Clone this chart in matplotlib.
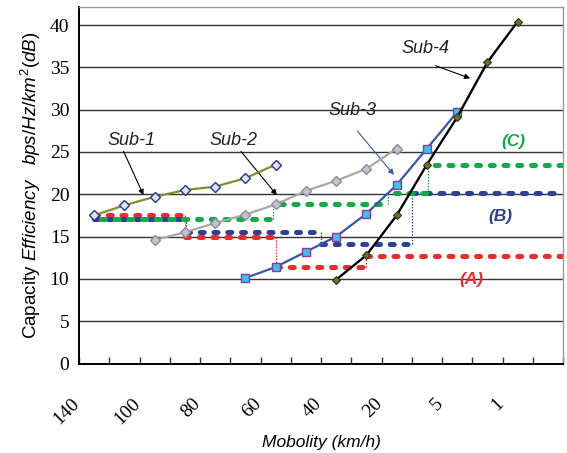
import numpy as np
import matplotlib
matplotlib.use('Agg')
import matplotlib.pyplot as plt
from matplotlib.transforms import ScaledTranslation

plt.rcParams['mathtext.fontset'] = 'custom'
plt.rcParams['mathtext.rm'] = 'Liberation Sans'
plt.rcParams['mathtext.it'] = 'Liberation Sans:italic'

# categories along the mobility axis (16 slots, labels on every other)
n_cats = 16
tick_pos = [0, 2, 4, 6, 8, 10, 12, 14]
tick_labels = ['140', '100', '80', '60', '40', '20', '5', '1']

# the four sub-band curves
sub1_x = [0, 1, 2, 3, 4, 5, 6]
sub1_y = [17.5, 18.7, 19.7, 20.5, 20.9, 21.9, 23.5]
sub2_x = [2, 3, 4, 5, 6, 7, 8, 9, 10]
sub2_y = [14.6, 15.5, 16.6, 17.6, 18.8, 20.4, 21.6, 23.0, 25.4]
sub3_x = [5, 6, 7, 8, 9, 10, 11, 12]
sub3_y = [10.1, 11.4, 13.2, 15.0, 17.7, 21.1, 25.4, 29.7]
sub4_x = [8, 9, 10, 11, 12, 13, 14]
sub4_y = [9.9, 12.8, 17.5, 23.5, 29.1, 35.6, 40.4]

# step envelopes (A), (B), (C): break positions and levels
stepA_x = [0, 3, 6, 9, 15.5]
stepA_y = [17.5, 15.0, 11.4, 12.7]
stepB_x = [0, 3.05, 7.5, 10.5, 15.5]
stepB_y = [17.1, 15.5, 14.1, 20.1]
stepC_x = [0, 5.9, 9.7, 11.05, 15.5]
stepC_y = [17.1, 18.8, 20.1, 23.5]

red = '#ee2a2a'
blue = '#2e3f9a'
green = '#10aa48'

fig = plt.figure(figsize=(5.67, 4.53), dpi=100)
ax = fig.add_axes([79/567, 1 - 363.5/453, 484/567, 356.5/453])


def draw_steps(xs, ys, color, offset=0.0):
    for i in range(len(ys)):
        ax.plot([xs[i], xs[i+1]], [ys[i], ys[i]], color=color, lw=3.6,
                linestyle=(offset, (0.8, 1.95)), dash_capstyle='round', zorder=2)
        if i + 1 < len(ys):
            ax.plot([xs[i+1], xs[i+1]], [ys[i], ys[i+1]], color=color, lw=0.9,
                    linestyle=(0, (1.2, 1.2)), zorder=2)


draw_steps(stepA_x, stepA_y, red)
draw_steps(stepB_x, stepB_y, blue)
draw_steps(stepC_x, stepC_y, green, offset=1.4)

ax.plot(sub1_x, sub1_y, color='#8a8a30', lw=1.6, marker='D', ms=4.8,
        mfc='#d2e8fb', mec='#30308a', mew=1.0, zorder=4)
ax.plot(sub2_x, sub2_y, color='#a8a8a8', lw=1.6, marker='D', ms=5.2,
        mfc='#c2c2cc', mec='#8a8aa2', mew=1.0, zorder=4)
ax.plot(sub3_x, sub3_y, color='#3656ac', lw=1.6, marker='s', ms=5.6,
        mfc='#33c4f0', mec='#993399', mew=1.0, zorder=4)
ax.plot(sub4_x, sub4_y, color='black', lw=1.7, marker='D', ms=3.8,
        mfc='#6e6e28', mec='#33331a', mew=0.8, zorder=4)

# curve names with arrows
sub_font = dict(fontsize=13, style='italic', family='Liberation Sans', color='#222222')
arr = dict(arrowstyle='-|>', lw=0.8, color='black', mutation_scale=8, shrinkA=0, shrinkB=0)
ax.annotate('Sub-1', xy=(1.63, 19.9), xytext=(1.25, 26.4), ha='center', va='center',
            arrowprops=dict(arr, relpos=(0.3, 0.0)), **sub_font)
ax.annotate('Sub-2', xy=(6.04, 19.9), xytext=(4.62, 26.4), ha='center', va='center',
            arrowprops=dict(arr, relpos=(0.6, 0.0)), **sub_font)
ax.annotate('Sub-3', xy=(9.91, 22.3), xytext=(8.54, 29.9), ha='center', va='center',
            arrowprops=dict(arr, color='#3656ac', relpos=(0.6, -0.7)), **sub_font)
ax.annotate('Sub-4', xy=(12.43, 33.7), xytext=(10.97, 37.2), ha='center', va='center',
            arrowprops=dict(arr, relpos=(0.7, -0.5)), **sub_font)

tag_font = dict(fontsize=12.5, style='italic', weight='bold', family='Liberation Sans',
                ha='center', va='center')
ax.text(12.46, 9.87, '(A)', color=red, **tag_font)
ax.text(13.42, 17.4, '(B)', color=blue, **tag_font)
ax.text(13.85, 26.2, '(C)', color=green, **tag_font)

# axes
ax.set_xlim(-0.5, n_cats - 0.5)
ax.set_ylim(0, 42.13)
ax.set_yticks(range(0, 45, 5))
ax.yaxis.grid(True, color='#333333', lw=1.0)
ax.set_axisbelow(True)
ax.tick_params(axis='y', length=0, pad=7)
for lab in ax.get_yticklabels():
    lab.set_family('Liberation Serif')
    lab.set_fontsize(14)

ax.set_xticks(tick_pos)
ax.set_xticklabels(tick_labels, rotation=45, ha='right', va='center',
                   rotation_mode='anchor', family='Liberation Serif', fontsize=14)
ax.set_xticks(np.arange(-0.5, n_cats, 1.0), minor=True)
ax.tick_params(axis='x', which='major', length=0, pad=27)
ax.tick_params(axis='x', which='minor', direction='in', length=5, width=1.0, color='#333333')
shift = ScaledTranslation(-17/100, 0, fig.dpi_scale_trans)
for lab in ax.get_xticklabels():
    lab.set_transform(lab.get_transform() + shift)

for side in ['left', 'bottom']:
    ax.spines[side].set_color('black')
    ax.spines[side].set_linewidth(1.4)
for side in ['top', 'right']:
    ax.spines[side].set_color('#999999')
    ax.spines[side].set_linewidth(1.0)

fig.text(321/567, 1 - 443/453, 'Mobolity (km/h)', ha='center', va='center',
         fontsize=12.5, style='italic', family='Liberation Sans')
fig.text(31/567, 1 - 185/453,
         r'Capacity $\mathit{Efficiency}$   $\mathit{bps/Hz/km^2(dB)}$',
         rotation=90, ha='center', va='center', fontsize=13.5, family='Liberation Sans')

fig.savefig('out.png', dpi=100)
